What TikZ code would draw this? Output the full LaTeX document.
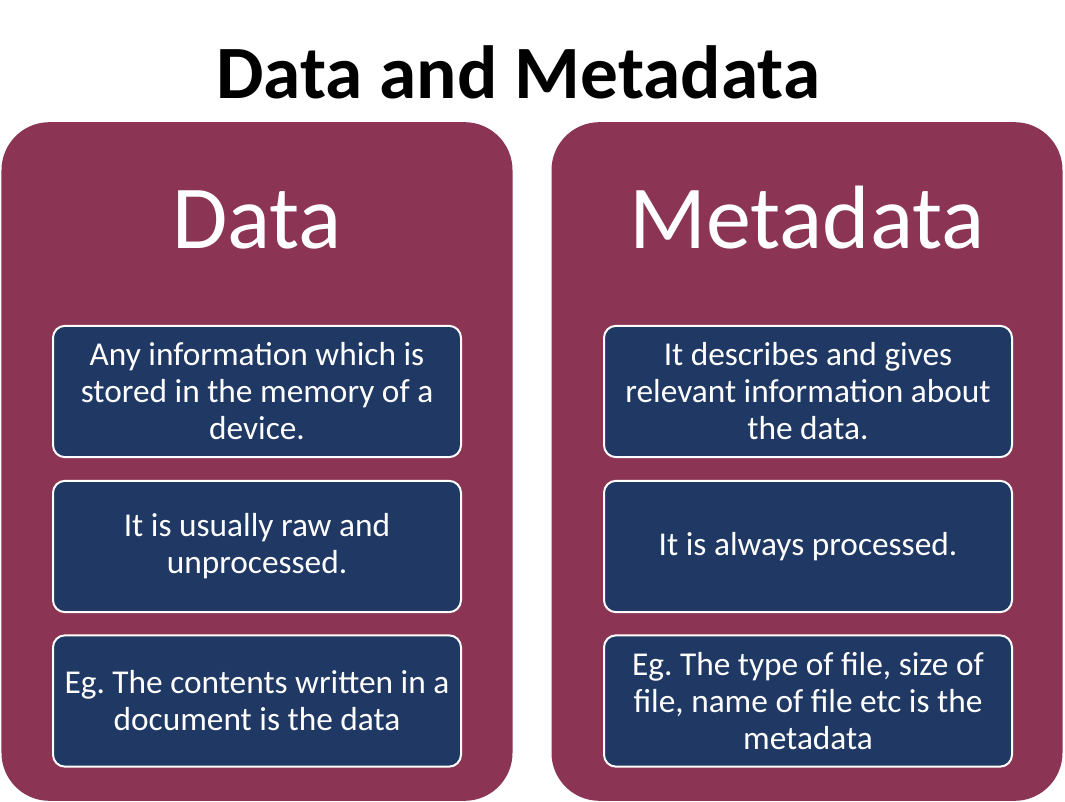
\documentclass[tikz,border=0pt]{standalone}
\usepackage{fontspec}
\setmainfont{Carlito}
\usetikzlibrary{positioning}
\definecolor{fundo}{HTML}{FFFFFF}
\definecolor{titulo}{HTML}{000000}
\definecolor{vinho}{HTML}{8B3453}
\definecolor{marinho}{HTML}{203864}
\frenchspacing

\begin{document}
\begin{tikzpicture}[x=0.75pt,y=-0.75pt,
    col/.style={fill=vinho, rounded corners=36pt, minimum width=383.25pt, minimum height=509pt, inner sep=0pt},
    cab/.style={text=white, anchor=base, font=\fontsize{67.5}{72}\selectfont},
    cel/.style={draw=white, line width=1.5pt, fill=marinho, rounded corners=9pt, text=white, align=center,
                minimum width=306pt, minimum height=98.5pt, inner sep=0pt, font=\fontsize{25}{27.75}\selectfont}]
  \useasboundingbox[fill=fundo] (0,0) rectangle (1065,802);
  \node[anchor=base, text=titulo, font=\fontsize{56.5}{60}\selectfont\bfseries] (tit) at (518,99) {Data and Metadata};
  \node[col] (cData) at (257,461.5) {};
  \node[col] (cMeta) at (807,461.5) {};
  \node[cab] (hData) at (257,249) {Data};
  \node[cab] (hMeta) at (807,249) {Metadata};
  \node[cel] (d1) at (257,391.5) {Any information which is\\stored in the memory of a\\device.};
  \node[cel] (d2) at (257,546.5) {It is usually raw and\\unprocessed.};
  \node[cel] (d3) at (257,701) {Eg. The contents written in a\\document is the data};
  \node[cel] (m1) at (808,391.5) {It describes and gives\\relevant information about\\the data.};
  \node[cel] (m2) at (808,546.5) {It is always processed.};
  \node[cel] (m3) at (808,701) {Eg. The type of file, size of\\file, name of file etc is the\\metadata};
\end{tikzpicture}
\end{document}
